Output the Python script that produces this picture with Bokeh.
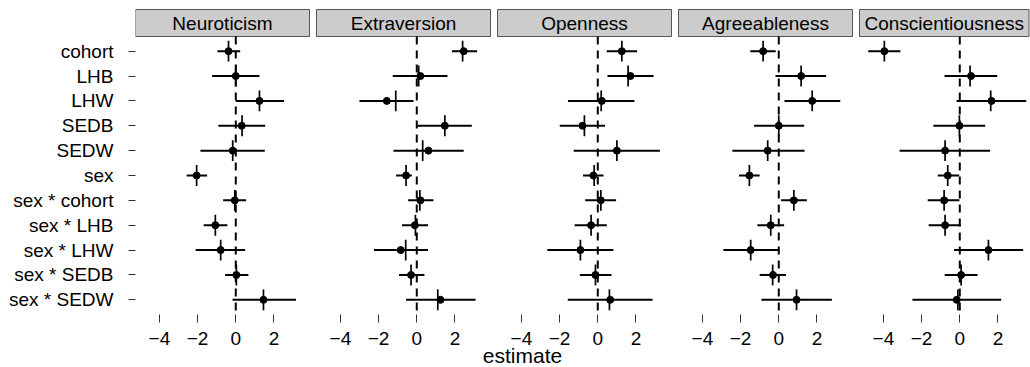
import numpy as np
import pandas as pd
from bokeh.plotting import figure
from bokeh.models import ColumnDataSource, Range1d, FixedTicker
from bokeh.transform import dodge
from bokeh.core.properties import value
from bokeh.embed import file_html
from bokeh.resources import INLINE

# ---------------- data ----------------
terms = ["cohort", "LHB", "LHW", "SEDB", "SEDW", "sex",
         "sex * cohort", "sex * LHB", "sex * LHW", "sex * SEDB", "sex * SEDW"]
traits = ["Neuroticism", "Extraversion", "Openness", "Agreeableness", "Conscientiousness"]
x_tick_values = [-4, -2, 0, 2]
x_tick_labels = ["\u22124", "\u22122", "0", "2"]
x_title = "estimate"

neuro_est  = [-0.38, 0.00, 1.24, 0.31, -0.16, -2.05, -0.05, -1.07, -0.79, 0.03, 1.45]
neuro_tick = [-0.38, 0.00, 1.24, 0.33, -0.16, -2.05, -0.05, -1.07, -0.79, 0.03, 1.45]
neuro_lo   = [-0.96, -1.24, 0.00, -0.91, -1.85, -2.57, -0.66, -1.68, -2.10, -0.56, -0.17]
neuro_hi   = [0.23, 1.24, 2.53, 1.54, 1.52, -1.50, 0.54, -0.44, 0.49, 0.66, 3.15]

extra_est  = [2.46, 0.19, -1.57, 1.47, 0.61, -0.56, 0.19, -0.10, -0.84, -0.30, 1.24]
extra_tick = [2.40, 0.10, -1.10, 1.47, 0.31, -0.56, 0.16, -0.07, -0.58, -0.30, 1.10]
extra_lo   = [1.84, -1.26, -3.00, 0.05, -1.22, -1.08, -0.45, -0.77, -2.24, -0.93, -0.56]
extra_hi   = [3.16, 1.61, -0.17, 2.88, 2.46, -0.26, 0.87, 0.59, 0.59, 0.40, 3.08]

open_est  = [1.26, 1.71, 0.21, -0.80, 1.00, -0.23, 0.16, -0.35, -0.91, -0.12, 0.65]
open_tick = [1.26, 1.59, 0.18, -0.70, 1.00, -0.19, 0.16, -0.35, -0.91, -0.12, 0.61]
open_lo   = [0.47, 0.51, -1.56, -1.99, -1.26, -0.77, -0.66, -1.21, -2.64, -0.94, -1.57]
open_hi   = [2.06, 2.92, 1.92, 0.38, 3.25, 0.30, 0.96, 0.47, 0.82, 0.72, 2.87]

agree_est  = [-0.82, 1.17, 1.75, 0.00, -0.58, -1.54, 0.79, -0.42, -1.47, -0.30, 0.93]
agree_tick = [-0.82, 1.17, 1.75, 0.00, -0.58, -1.54, 0.79, -0.42, -1.47, -0.32, 0.93]
agree_lo   = [-1.49, -0.17, 0.30, -1.29, -2.43, -2.08, 0.12, -1.12, -2.90, -1.00, -0.91]
agree_hi   = [-0.16, 2.48, 3.22, 1.33, 1.35, -1.00, 1.47, 0.28, -0.03, 0.38, 2.78]

consc_est  = [-3.95, 0.59, 1.66, -0.02, -0.77, -0.63, -0.82, -0.77, 1.50, 0.07, -0.16]
consc_tick = [-3.95, 0.54, 1.62, -0.02, -0.77, -0.63, -0.82, -0.77, 1.50, 0.07, -0.10]
consc_lo   = [-4.79, -0.80, -0.17, -1.38, -3.15, -1.15, -1.68, -1.63, -0.30, -0.79, -2.48]
consc_hi   = [-3.11, 1.96, 3.48, 1.33, 1.59, -0.03, -0.02, 0.05, 3.32, 0.93, 2.17]

panel_est  = [neuro_est, extra_est, open_est, agree_est, consc_est]
panel_tick = [neuro_tick, extra_tick, open_tick, agree_tick, consc_tick]
panel_lo   = [neuro_lo, extra_lo, open_lo, agree_lo, consc_lo]
panel_hi   = [neuro_hi, extra_hi, open_hi, agree_hi, consc_hi]

# ---------------- layout constants ----------------
FONT = "Liberation Sans"
FS = "19px"
PX_PER_UNIT = 19.1
X_MIN, X_MAX = -5.25, 3.86          # each panel's own x limits
PANEL_STEP = 181 / PX_PER_UNIT      # panel spacing in data units
FRAME_W = 895
X_END = X_MIN + FRAME_W / PX_PER_UNIT
ROW_PX = 24.86
Y_PAD = 0.59
STRIP_H = 27 / ROW_PX
n = len(terms)
y_pos = list(range(n))
Y_BOTTOM = n - 1 + Y_PAD            # bottom edge of the panels

p = figure(width=1030, height=367, output_backend="svg", toolbar_location=None,
           x_range=Range1d(X_MIN, X_END),
           y_range=Range1d(Y_BOTTOM + 53 / ROW_PX, -Y_PAD - STRIP_H - 1 / ROW_PX),
           min_border_left=135, min_border_right=0, min_border_top=8, min_border_bottom=0)
p.background_fill_color = "white"
p.border_fill_color = "white"
p.outline_line_color = None
p.grid.visible = False

all_ticks = []
overrides = {}
for k, trait in enumerate(traits):
    off = k * PANEL_STEP
    src = ColumnDataSource(dict(y=y_pos, est=panel_est[k], tick=panel_tick[k],
                                lo=panel_lo[k], hi=panel_hi[k]))
    # strip
    right = min(off + X_MAX, X_END - 0.08)
    p.quad(left=[off + X_MIN], right=[right], top=[-Y_PAD - STRIP_H], bottom=[-Y_PAD],
           fill_color="#cccccc", line_color="#555555", line_width=1)
    p.text(x=[(off + X_MIN + right) / 2], y=[-Y_PAD - STRIP_H / 2], text=[trait],
           text_align="center", text_baseline="middle", text_font=value(FONT),
           text_font_size=FS, text_color="black")
    # zero reference line
    p.segment(x0=[off], x1=[off], y0=[-Y_PAD], y1=[Y_BOTTOM],
              line_color="black", line_width=2, line_dash="8 6")
    # intervals
    p.segment(x0=dodge("lo", off), x1=dodge("hi", off), y0="y", y1="y",
              source=src, line_color="black", line_width=2)
    p.segment(x0=dodge("tick", off), x1=dodge("tick", off),
              y0=dodge("y", -0.42), y1=dodge("y", 0.42),
              source=src, line_color="black", line_width=1.7)
    p.scatter(x=dodge("est", off), y="y", source=src, size=7,
              fill_color="black", line_color="black")
    for t, lab in zip(x_tick_values, x_tick_labels):
        all_ticks.append(off + t)
        overrides[off + t] = lab

p.xaxis.fixed_location = Y_BOTTOM
p.xaxis.ticker = FixedTicker(ticks=all_ticks)
p.xaxis.major_label_overrides = overrides
p.yaxis.ticker = FixedTicker(ticks=y_pos)
p.yaxis.major_label_overrides = {i: t for i, t in enumerate(terms)}

for ax in (p.xaxis[0], p.yaxis[0]):
    ax.axis_line_color = None
    ax.major_tick_in = 0
    ax.minor_tick_line_color = None
    ax.major_tick_line_color = "#333333"
    ax.major_tick_line_width = 1
    ax.major_label_text_font = FONT
    ax.major_label_text_font_size = FS
    ax.major_label_text_color = "black"
p.xaxis.major_tick_out = 8
p.xaxis.major_label_standoff = 10
p.yaxis.major_tick_out = 7
p.yaxis.major_label_standoff = 15

# x-axis title, placed where the reference has it
p.text(x=[X_MIN + (522 - 135) / PX_PER_UNIT], y=[Y_BOTTOM + 41 / ROW_PX], text=[x_title],
       text_align="center", text_baseline="middle", text_font=value(FONT),
       text_font_size="21px", text_color="black")

open("out.html", "w").write(file_html(p, INLINE))
